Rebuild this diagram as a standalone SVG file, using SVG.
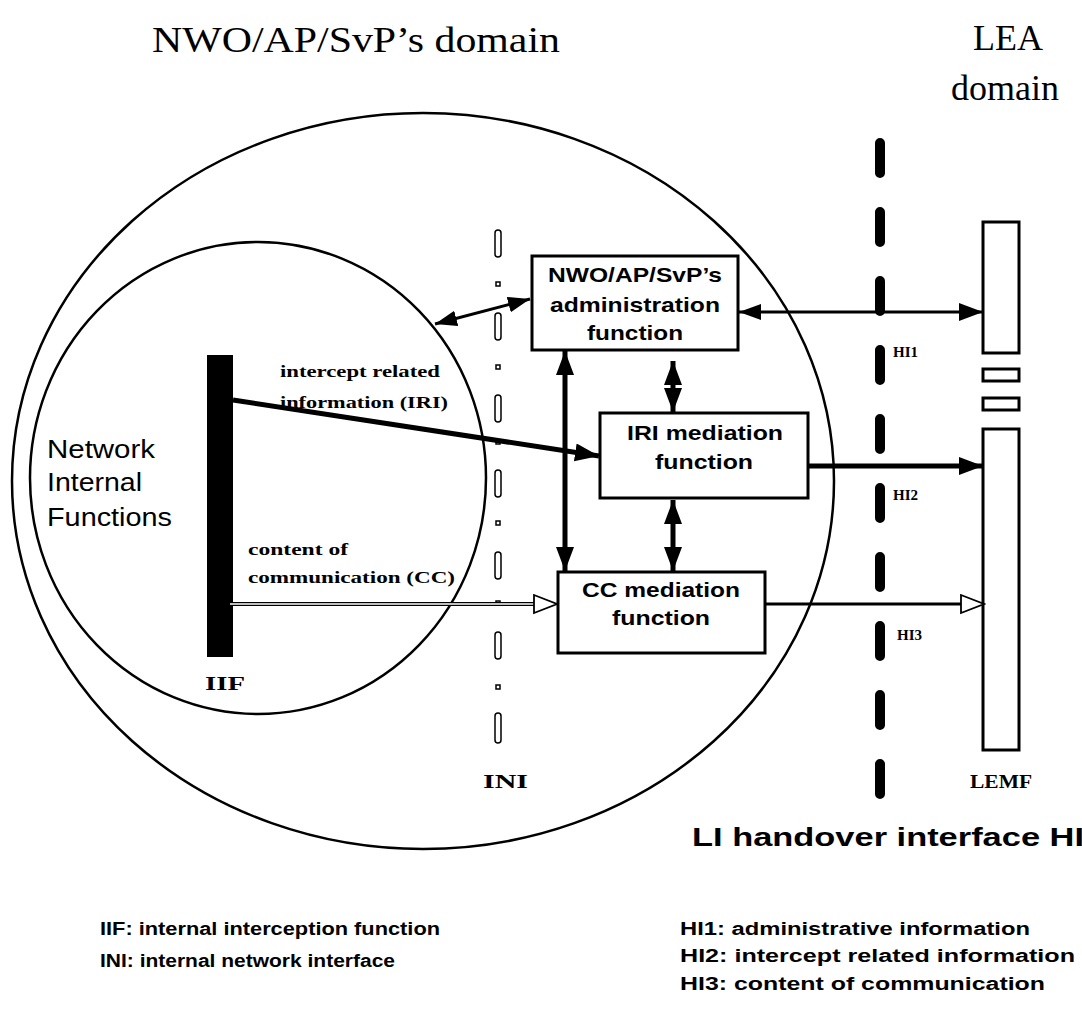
<svg xmlns="http://www.w3.org/2000/svg" width="1082" height="1027" viewBox="0 0 1082 1027">
<style>
.title{font-family:"Liberation Serif",serif;font-size:36px;fill:#000}
.box{fill:#fff;stroke:#000;stroke-width:3}
.bl{font-family:"Liberation Sans",Arial,sans-serif;font-weight:bold;font-size:21px;fill:#000;text-anchor:middle}
.ser{font-family:"Liberation Serif",serif;font-weight:bold;fill:#000}
.sans{font-family:"Liberation Sans",Arial,sans-serif;fill:#000}
.leg{font-family:"Liberation Sans",Arial,sans-serif;font-weight:bold;font-size:18px;fill:#000}
.thick{stroke:#000;stroke-width:5;fill:none}
.mid{stroke:#000;stroke-width:3;fill:none}
.ini{fill:#fff;stroke:#000;stroke-width:1.5}
</style>
<defs>
<marker id="ah" markerUnits="userSpaceOnUse" markerWidth="26" markerHeight="20" refX="24" refY="9" orient="auto-start-reverse">
<path d="M0,0 L24,9 L0,18 Z" fill="#000"/>
</marker>
<marker id="ahs" markerUnits="userSpaceOnUse" markerWidth="24" markerHeight="18" refX="22" refY="8" orient="auto-start-reverse">
<path d="M0,0 L22,8 L0,16 Z" fill="#000"/>
</marker>
<marker id="ahh" markerUnits="userSpaceOnUse" markerWidth="26" markerHeight="22" refX="24" refY="10" orient="auto">
<path d="M1,1 L24,10 L1,19 Z" fill="#fff" stroke="#000" stroke-width="1.8"/>
</marker>
</defs>

<g id="titles">
<text class="title" x="152" y="52" textLength="408" lengthAdjust="spacingAndGlyphs">NWO/AP/SvP’s domain</text>
<text class="title" x="1008" y="50" text-anchor="middle">LEA</text>
<text class="title" x="1005" y="100" text-anchor="middle">domain</text>
</g>

<g id="domain-circle">
<ellipse cx="423" cy="481" rx="411" ry="368" fill="none" stroke="#000" stroke-width="2.5"/>
</g>
<g id="network-internal">
<ellipse cx="258" cy="478" rx="228" ry="236" fill="none" stroke="#000" stroke-width="2.5"/>
<text class="sans" font-size="25" x="47" y="458" textLength="108" lengthAdjust="spacingAndGlyphs">Network</text>
<text class="sans" font-size="25" x="47" y="491" textLength="95" lengthAdjust="spacingAndGlyphs">Internal</text>
<text class="sans" font-size="25" x="47" y="526" textLength="125" lengthAdjust="spacingAndGlyphs">Functions</text>
</g>

<g id="iif">
<rect x="207" y="355" width="26" height="302" fill="#000"/>
<text class="ser" font-size="19" x="205" y="690" textLength="40" lengthAdjust="spacingAndGlyphs">IIF</text>
</g>

<g id="ini">
<rect class="ini" x="495" y="230" width="6" height="27" rx="3"/>
<rect class="ini" x="496" y="282" width="4" height="4"/>
<rect class="ini" x="495" y="313" width="6" height="27" rx="3"/>
<rect class="ini" x="496" y="365" width="4" height="4"/>
<rect class="ini" x="495" y="395" width="6" height="27" rx="3"/>
<rect class="ini" x="496" y="440" width="4" height="4"/>
<rect class="ini" x="495" y="470" width="6" height="27" rx="3"/>
<rect class="ini" x="496" y="521" width="4" height="4"/>
<rect class="ini" x="495" y="552" width="6" height="27" rx="3"/>
<rect class="ini" x="496" y="601" width="4" height="4"/>
<rect class="ini" x="495" y="632" width="6" height="27" rx="3"/>
<rect class="ini" x="496" y="685" width="4" height="4"/>
<rect class="ini" x="495" y="713" width="6" height="30" rx="3"/>
<text class="ser" font-size="19" x="483" y="788" textLength="45" lengthAdjust="spacingAndGlyphs">INI</text>
</g>

<g id="hi-line">
<line x1="880" y1="138" x2="880" y2="799" stroke="#000" stroke-width="10" stroke-dasharray="30 39" stroke-linecap="round" transform="translate(0,5)"/>
<text class="ser" font-size="15" x="893" y="357">HI1</text>
<text class="ser" font-size="15" x="893" y="500">HI2</text>
<text class="ser" font-size="15" x="897" y="640">HI3</text>
<text class="sans" font-weight="bold" font-size="26" x="692" y="846" textLength="392" lengthAdjust="spacingAndGlyphs">LI handover interface HI</text>
</g>

<g id="lemf">
<rect class="box" x="983" y="222" width="36" height="131" stroke-width="2"/>
<rect class="box" x="983" y="369" width="36" height="12" stroke-width="2.5"/>
<rect class="box" x="983" y="398" width="36" height="12" stroke-width="2.5"/>
<rect class="box" x="983" y="429" width="36" height="321" stroke-width="2"/>
<text class="ser" font-size="19" x="970" y="788" textLength="62" lengthAdjust="spacingAndGlyphs">LEMF</text>
</g>

<g id="connectors">
<line class="mid" x1="435" y1="324" x2="530" y2="299" marker-start="url(#ahs)" marker-end="url(#ahs)"/>
<line class="mid" x1="739" y1="312" x2="983" y2="312" marker-start="url(#ahs)" marker-end="url(#ah)"/>
<line class="thick" x1="233" y1="400" x2="599" y2="456" marker-end="url(#ah)"/>
<line class="thick" x1="809" y1="466" x2="983" y2="466" marker-end="url(#ah)"/>
<line class="thick" x1="565" y1="351" x2="565" y2="571" marker-start="url(#ah)" marker-end="url(#ah)"/>
<line class="thick" x1="673" y1="361" x2="673" y2="412" marker-start="url(#ah)" marker-end="url(#ah)"/>
<line class="thick" x1="673" y1="500" x2="673" y2="571" marker-start="url(#ah)" marker-end="url(#ah)"/>
<line stroke="#000" stroke-width="4" x1="228" y1="604" x2="536" y2="604"/>
<line stroke="#fff" stroke-width="1.3" x1="230" y1="604" x2="536" y2="604"/>
<line stroke="#000" stroke-width="0.1" x1="530" y1="604" x2="557" y2="604" marker-end="url(#ahh)"/>
<line class="mid" x1="766" y1="604" x2="962" y2="604"/>
<line stroke="#000" stroke-width="0.1" x1="950" y1="604" x2="984" y2="604" marker-end="url(#ahh)"/>
<text class="ser" font-size="17" x="280" y="377" textLength="160" lengthAdjust="spacingAndGlyphs">intercept related</text>
<text class="ser" font-size="17" x="280" y="408" textLength="168" lengthAdjust="spacingAndGlyphs">information (IRI)</text>
<text class="ser" font-size="17" x="248" y="555" textLength="100" lengthAdjust="spacingAndGlyphs">content of</text>
<text class="ser" font-size="17" x="248" y="583" textLength="207" lengthAdjust="spacingAndGlyphs">communication (CC)</text>
</g>

<g id="admin">
<rect class="box" x="532" y="256" width="206" height="94"/>
<text class="bl" x="635" y="282" textLength="174" lengthAdjust="spacingAndGlyphs">NWO/AP/SvP’s</text>
<text class="bl" x="635" y="312" textLength="170" lengthAdjust="spacingAndGlyphs">administration</text>
<text class="bl" x="635" y="340" textLength="96" lengthAdjust="spacingAndGlyphs">function</text>
</g>
<g id="iri">
<rect class="box" x="600" y="413" width="208" height="85"/>
<text class="bl" x="705" y="440" textLength="156" lengthAdjust="spacingAndGlyphs">IRI mediation</text>
<text class="bl" x="704" y="469" textLength="98" lengthAdjust="spacingAndGlyphs">function</text>
</g>
<g id="cc">
<rect class="box" x="558" y="572" width="207" height="81"/>
<text class="bl" x="661" y="597" textLength="158" lengthAdjust="spacingAndGlyphs">CC mediation</text>
<text class="bl" x="661" y="625" textLength="98" lengthAdjust="spacingAndGlyphs">function</text>
</g>

<g id="legend">
<text class="leg" x="100" y="935" textLength="340" lengthAdjust="spacingAndGlyphs">IIF: internal interception function</text>
<text class="leg" x="100" y="967" textLength="295" lengthAdjust="spacingAndGlyphs">INI: internal network interface</text>
<text class="leg" x="680" y="935" textLength="350" lengthAdjust="spacingAndGlyphs">HI1: administrative information</text>
<text class="leg" x="680" y="962" textLength="395" lengthAdjust="spacingAndGlyphs">HI2: intercept related information</text>
<text class="leg" x="680" y="990" textLength="365" lengthAdjust="spacingAndGlyphs">HI3: content of communication</text>
</g>
</svg>
